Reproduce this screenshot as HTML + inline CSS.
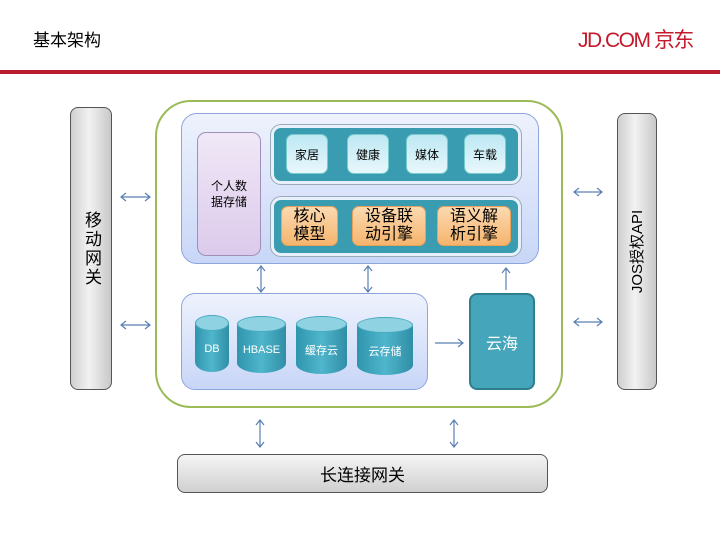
<!DOCTYPE html>
<html><head><meta charset="utf-8"><style>
*{margin:0;padding:0;box-sizing:border-box}
body{width:720px;height:540px;background:#fff;position:relative;overflow:hidden;font-family:"Liberation Sans","Noto Sans CJK SC",sans-serif;color:#000}
.a{position:absolute}
.c{display:flex;align-items:center;justify-content:center;text-align:center}
.gray{background:linear-gradient(90deg,#cfcfcf,#f2f2f2 45%,#c8c8c8);border:1px solid #555;border-radius:8px}
.lb{background:linear-gradient(180deg,#bde8f4,#e8f7fb);border:1px solid #7cc;border-radius:7px;font-size:12px}
.or{background:linear-gradient(180deg,#fbd9b0,#f6b56e);border:1px solid #e9a15a;border-radius:7px;font-size:16px;line-height:18px}
.teal{background:#3a9cb0;border:3px solid #e8f1fb;border-radius:10px;box-shadow:0 0 0 1px #9ab}
.cyl{background:linear-gradient(90deg,#2f95ae,#4fb6cc 50%,#2f8ea6);border-radius:50%/10px;color:#fff;font-size:11px}
.cyl:before{content:"";position:absolute;left:0;right:0;top:0;height:14px;border-radius:50%;background:#8fd3e3;border:1px solid #4aaac0}
</style></head><body>
<div class="a" style="left:33px;top:26px;font-size:17px">基本架构</div>
<div class="a" style="left:578px;top:24px;font-size:21px;color:#c41a2c;letter-spacing:-1.5px;white-space:nowrap">JD.COM 京东</div>
<div class="a" style="left:0;top:70px;width:720px;height:4px;background:#b81e30"></div>

<div class="a gray c" style="left:70px;top:107px;width:42px;height:283px;font-size:17px;line-height:22px;writing-mode:vertical-rl;letter-spacing:2px">移动网关</div>
<div class="a gray c" style="left:617px;top:113px;width:40px;height:277px;font-size:15px"><span style="transform:rotate(-90deg);white-space:nowrap;display:block">JOS授权API</span></div>

<div class="a" style="left:155px;top:100px;width:408px;height:308px;border:2px solid #9bbb59;border-radius:36px"></div>

<div class="a" style="left:181px;top:113px;width:358px;height:151px;background:linear-gradient(180deg,#eef2fd,#c8d6f7);border:1px solid #8ea6dc;border-radius:16px"></div>
<div class="a c" style="left:197px;top:132px;width:64px;height:124px;background:linear-gradient(180deg,#f0e8f7,#dccaeb);border:1px solid #a090b8;border-radius:9px;font-size:12px;line-height:16px">个人数<br>据存储</div>
<div class="a teal" style="left:271px;top:125px;width:250px;height:59px"></div>
<div class="a lb c" style="left:286px;top:134px;width:42px;height:40px">家居</div>
<div class="a lb c" style="left:347px;top:134px;width:42px;height:40px">健康</div>
<div class="a lb c" style="left:406px;top:134px;width:42px;height:40px">媒体</div>
<div class="a lb c" style="left:464px;top:134px;width:42px;height:40px">车载</div>
<div class="a teal" style="left:271px;top:197px;width:250px;height:59px"></div>
<div class="a or c" style="left:281px;top:206px;width:57px;height:40px">核心<br>模型</div>
<div class="a or c" style="left:352px;top:206px;width:74px;height:40px">设备联<br>动引擎</div>
<div class="a or c" style="left:437px;top:206px;width:74px;height:40px">语义解<br>析引擎</div>

<div class="a" style="left:181px;top:293px;width:247px;height:97px;background:linear-gradient(180deg,#eef2fd,#c8d6f7);border:1px solid #8ea6dc;border-radius:14px"></div>
<div class="a cyl c" style="left:195px;top:315px;width:34px;height:57px;padding-top:10px">DB</div>
<div class="a cyl c" style="left:237px;top:316px;width:49px;height:57px;padding-top:10px">HBASE</div>
<div class="a cyl c" style="left:296px;top:316px;width:51px;height:58px;padding-top:10px">缓存云</div>
<div class="a cyl c" style="left:357px;top:317px;width:56px;height:58px;padding-top:10px">云存储</div>
<div class="a c" style="left:469px;top:293px;width:66px;height:97px;background:#44a5bb;border:2px solid #2d7f90;border-radius:8px;color:#fff;font-size:16px">云海</div>

<div class="a gray c" style="left:177px;top:454px;width:371px;height:39px;background:linear-gradient(180deg,#f5f5f5,#d0d0d0);font-size:17px">长连接网关</div>

<svg class="a" style="left:0;top:0" width="720" height="540" fill="none" stroke="#5a7fb5" stroke-width="1.2">
<path d="M121 197H150M126 193L121 197L126 201M145 193L150 197L145 201"/>
<path d="M121 325H150M126 321L121 325L126 329M145 321L150 325L145 329"/>
<path d="M574 192H602M579 188L574 192L579 196M597 188L602 192L597 196"/>
<path d="M574 322H602M579 318L574 322L579 326M597 318L602 322L597 326"/>
<path d="M261 266V292M257 271L261 266L265 271M257 287L261 292L265 287"/>
<path d="M368 266V292M364 271L368 266L372 271M364 287L368 292L372 287"/>
<path d="M506 268V290M502 273L506 268L510 273"/>
<path d="M435 343H463M458 339L463 343L458 347"/>
<path d="M260 420V447M256 425L260 420L264 425M256 442L260 447L264 442"/>
<path d="M454 420V447M450 425L454 420L458 425M450 442L454 447L458 442"/>
</svg>
</body></html>
